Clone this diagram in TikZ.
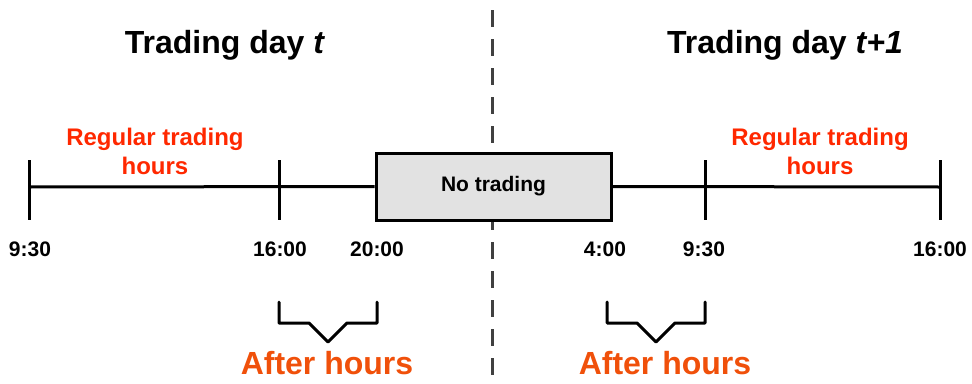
\documentclass[tikz,border=0pt]{standalone}
\usepackage{fontspec}
\setmainfont{Liberation Sans}
\usetikzlibrary{calc}

\definecolor{hoursred}{RGB}{255,40,0}
\definecolor{afterorange}{RGB}{240,80,10}
\definecolor{boxgray}{RGB}{226,226,226}
\definecolor{splitgray}{RGB}{64,64,64}

\tikzset{
  axis/.style={line width=3pt},
  tickline/.style={line width=3pt},
  timelabel/.style={font=\fontsize{21}{24}\selectfont\bfseries},
  daytitle/.style={font=\fontsize{32}{38}\selectfont\bfseries},
  regular/.style={font=\fontsize{24}{29}\selectfont\bfseries, text=hoursred, align=center},
  afterlabel/.style={font=\fontsize{32}{38}\selectfont\bfseries, text=afterorange},
  closedbox/.style={draw, line width=3pt, fill=boxgray, minimum width=235pt,
    minimum height=67pt, font=\fontsize{21}{24}\selectfont\bfseries},
  bracket/.style={line width=3pt, line join=round, line cap=round},
}

\begin{document}
\begin{tikzpicture}[x=1pt,y=-1pt]
\useasboundingbox (0,0) rectangle (972,383);

% day split
\coordinate (splittop) at (492,10);
\coordinate (splitbot) at (492,383);
\draw[splitgray, line width=3pt, dash pattern=on 17pt off 12pt] (splittop) -- (splitbot);

\node[daytitle] (dayt) at (225,45) {Trading day \textit{t}};
\node[daytitle] (daytnext) at (785,45) {Trading day \textit{t+1}};

% time axis
\coordinate (a) at (29,187);
\coordinate (b) at (279,187);
\coordinate (c) at (705,187);
\coordinate (d) at (940,187);
\node[closedbox] (closed) at (493.5,186.5) {No trading};

\draw[axis] (a) -- (closed.west);
\draw[axis] (closed.east) -- (d);
\foreach \t in {a,b,c,d}
  \draw[tickline] ($(\t)+(0,-27)$) -- ($(\t)+(0,33)$);

\node[regular] (reg1) at (155,151) {Regular trading\\hours};
\node[regular] (reg2) at (820,151) {Regular trading\\hours};

% clock times
\node[timelabel] (l930) at (30,249) {9:30};
\node[timelabel] (l1600) at (280,249) {16:00};
\node[timelabel] (l2000) at (377,249) {20:00};
\node[timelabel] (l400) at (605,249) {4:00};
\node[timelabel] (l930b) at (704,249) {9:30};
\node[timelabel] (l1600b) at (940,249) {16:00};

% after hours brackets
\coordinate (e) at (279,302);
\coordinate (f) at (377,302);
\coordinate (g) at (607,302);
\coordinate (h) at (705,302);
\draw[bracket] (e) -- ++(0,21) -- ($(e)!0.5!(f)+(-19,21)$) -- ($(e)!0.5!(f)+(0,40)$)
  -- ($(e)!0.5!(f)+(19,21)$) -- ($(f)+(0,21)$) -- (f);
\draw[bracket] (g) -- ++(0,21) -- ($(g)!0.5!(h)+(-19,21)$) -- ($(g)!0.5!(h)+(0,40)$)
  -- ($(g)!0.5!(h)+(19,21)$) -- ($(h)+(0,21)$) -- (h);

\node[afterlabel] (ah1) at (327,363) {After hours};
\node[afterlabel] (ah2) at (665,363) {After hours};

\end{tikzpicture}
\end{document}
